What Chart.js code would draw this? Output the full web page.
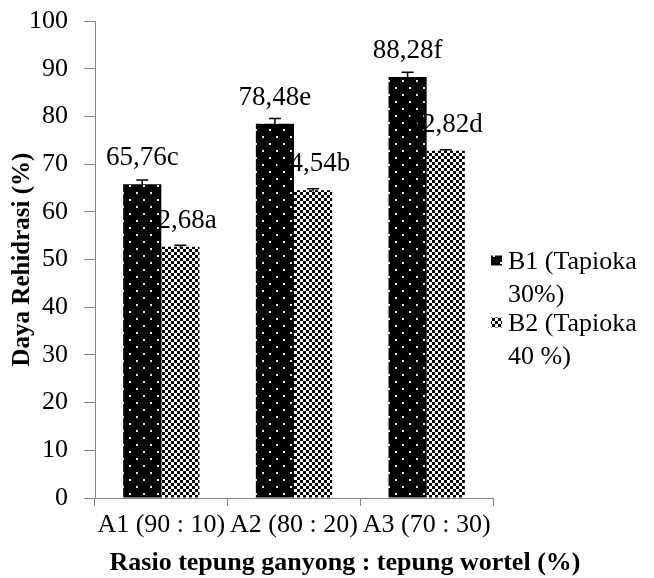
<!DOCTYPE html>
<html>
<head>
<meta charset="utf-8">
<script src="https://cdn.jsdelivr.net/npm/chart.js@4/dist/chart.umd.min.js"></script>
<style>
  html, body { margin: 0; padding: 0; background: #fff; }
  #wrap { width: 654px; height: 578px; }
</style>
</head>
<body>
<div id="wrap"><canvas id="c" width="654" height="578"></canvas></div>
<script>
// Rehydration capacity per flour ratio, two tapioca levels
const categories = ['A1 (90 : 10)', 'A2 (80 : 20)', 'A3 (70 : 30)'];
const seriesNames = ['B1 (Tapioka 30%)', 'B2 (Tapioka 40 %)'];
const b1Values = [65.76, 78.48, 88.28];
const b2Values = [52.68, 64.54, 72.82];
const b1Errors = [0.9, 1.1, 1.0];
const b2Errors = [0.3, 0.3, 0.2];
const b1Letters = ['c', 'e', 'f'];
const b2Letters = ['a', 'b', 'd'];
const yMin = 0, yMax = 100, yStep = 10;
const xTitle = 'Rasio tepung ganyong : tepung wortel (%)';
const yTitle = 'Daya Rehidrasi (%)';

const SERIF = '"Liberation Serif", "Times New Roman", serif';
const AXIS_GRAY = '#868686';

// Fill patterns: black with sparse white dots, and a small checkerboard
function makeDotted() {
  const t = document.createElement('canvas');
  t.width = 14; t.height = 14;
  const g = t.getContext('2d');
  g.fillStyle = '#000'; g.fillRect(0, 0, 14, 14);
  g.fillStyle = '#e6e6e6';
  g.fillRect(3, 3, 2, 2);
  g.fillRect(10, 10, 2, 2);
  return g.createPattern(t, 'repeat');
}
function makeChecker() {
  const t = document.createElement('canvas');
  t.width = 6; t.height = 6;
  const g = t.getContext('2d');
  g.fillStyle = '#fff'; g.fillRect(0, 0, 6, 6);
  g.fillStyle = '#000';
  g.fillRect(0, 0, 3, 3);
  g.fillRect(3, 3, 3, 3);
  return g.createPattern(t, 'repeat');
}
const fillB1 = makeDotted();
const fillB2 = makeChecker();

// Error bars and value labels ("65,76c") above each bar
const barExtras = {
  id: 'barExtras',
  afterDatasetsDraw(chart) {
    const { ctx } = chart;
    const y = chart.scales.y;
    chart.data.datasets.forEach((ds, di) => {
      const meta = chart.getDatasetMeta(di);
      meta.data.forEach((bar, i) => {
        const v = ds.data[i];
        const e = ds.errors[i];
        const yHi = y.getPixelForValue(v + e);
        const yLo = y.getPixelForValue(v - e);
        ctx.save();
        ctx.strokeStyle = '#000';
        ctx.lineWidth = 1.5;
        ctx.beginPath();
        ctx.moveTo(bar.x, yLo); ctx.lineTo(bar.x, yHi);
        ctx.moveTo(bar.x - 6, yHi); ctx.lineTo(bar.x + 6, yHi);
        ctx.stroke();
        ctx.fillStyle = '#000';
        ctx.font = '27px ' + SERIF;
        ctx.textAlign = 'center';
        ctx.textBaseline = 'alphabetic';
        const txt = v.toFixed(2).replace('.', ',') + ds.letters[i];
        ctx.fillText(txt, bar.x, y.getPixelForValue(v) - 19);
        ctx.restore();
      });
    });
  }
};

// Wrapped legend on the right side
function wrapWords(ctx, text, maxW) {
  const words = text.split(' ');
  const lines = [];
  let cur = '';
  words.forEach(w => {
    const test = cur ? cur + ' ' + w : w;
    if (cur && ctx.measureText(test).width > maxW) { lines.push(cur); cur = w; }
    else cur = test;
  });
  if (cur) lines.push(cur);
  return lines;
}
const sideLegend = {
  id: 'sideLegend',
  afterDraw(chart) {
    const { ctx, chartArea } = chart;
    const iconX = chartArea.right - 2;
    const textX = chartArea.right + 15;
    const lineH = 33.5, itemGap = 28.5;
    let base = (chartArea.top + chartArea.bottom) / 2 + 9;
    ctx.save();
    ctx.font = '26px ' + SERIF;
    ctx.fillStyle = '#000';
    ctx.textAlign = 'left';
    ctx.textBaseline = 'alphabetic';
    chart.data.datasets.forEach((ds) => {
      ctx.fillStyle = ds.backgroundColor;
      ctx.fillRect(iconX, base - 13, 11, 10);
      ctx.fillStyle = '#000';
      const lines = wrapWords(ctx, ds.label, chart.width - textX - 4);
      lines.forEach((ln, li) => {
        ctx.fillText(ln, textX, base);
        if (li < lines.length - 1) base += lineH;
      });
      base += itemGap;
    });
    ctx.restore();
  }
};

// Category axis title under the tick labels
const bottomTitle = {
  id: 'bottomTitle',
  afterDraw(chart) {
    const { ctx, chartArea } = chart;
    ctx.save();
    ctx.font = 'bold 26px ' + SERIF;
    ctx.fillStyle = '#000';
    ctx.textAlign = 'center';
    ctx.textBaseline = 'alphabetic';
    ctx.fillText(xTitle, (chartArea.left + chartArea.right) / 2 + 51, chart.height - 8);
    ctx.restore();
  }
};

new Chart(document.getElementById('c'), {
  type: 'bar',
  data: {
    labels: categories,
    datasets: [
      { label: seriesNames[0], data: b1Values, errors: b1Errors, letters: b1Letters,
        backgroundColor: fillB1, borderColor: '#000', borderWidth: 0 },
      { label: seriesNames[1], data: b2Values, errors: b2Errors, letters: b2Letters,
        backgroundColor: fillB2, borderColor: '#000', borderWidth: 0 }
    ]
  },
  options: {
    responsive: false,
    animation: false,
    devicePixelRatio: 1,
    layout: { padding: { top: 21, right: 161, bottom: 0, left: 0 } },
    datasets: { bar: { categoryPercentage: 0.575, barPercentage: 1 } },
    plugins: { legend: { display: false }, tooltip: { enabled: false } },
    scales: {
      x: {
        grid: { display: true, drawOnChartArea: false, drawTicks: true, tickLength: 8,
                color: AXIS_GRAY, offset: true },
        border: { display: true, color: AXIS_GRAY, width: 1 },
        ticks: { color: '#000', font: { family: SERIF, size: 26 }, padding: 4,
                 maxRotation: 0, autoSkip: false },
        afterFit(scale) { scale.height = 80; }
      },
      y: {
        min: yMin, max: yMax,
        ticks: { stepSize: yStep, color: '#000', font: { family: SERIF, size: 26 }, padding: 16 },
        grid: { display: true, drawOnChartArea: false, drawTicks: true, tickLength: 11,
                color: AXIS_GRAY },
        border: { display: true, color: AXIS_GRAY, width: 1 },
        title: { display: true, text: yTitle, color: '#000',
                 font: { family: SERIF, size: 25, weight: 'bold' },
                 padding: { top: 8, bottom: 0 } },
        afterFit(scale) {
          scale.width = 95;
          scale.paddingTop = 0;
          scale.paddingBottom = 0;
        }
      }
    }
  },
  plugins: [barExtras, sideLegend, bottomTitle]
});
</script>
</body>
</html>
